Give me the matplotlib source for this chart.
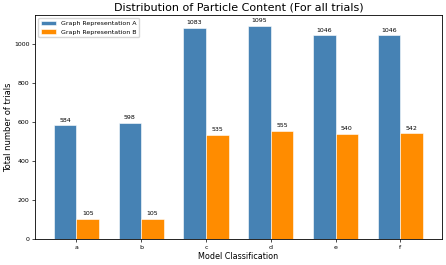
import matplotlib
matplotlib.use("Agg")
import matplotlib.pyplot as plt
import numpy as np

categories = ['a', 'b', 'c', 'd', 'e', 'f']
graph_a = [584, 598, 1083, 1095, 1046, 1046]
graph_b = [105, 105, 535, 555, 540, 542]

x = np.arange(len(categories))
width = 0.35

fig, ax = plt.subplots(figsize=(4.46, 2.65), dpi=100)
bars_a = ax.bar(x - width/2, graph_a, width, label='Graph Representation A',
                color='steelblue', edgecolor='white', linewidth=0.4)
bars_b = ax.bar(x + width/2, graph_b, width, label='Graph Representation B',
                color='darkorange', edgecolor='white', linewidth=0.4)

for bars in (bars_a, bars_b):
    for b in bars:
        h = b.get_height()
        ax.annotate(str(h), xy=(b.get_x() + b.get_width()/2, h),
                    xytext=(0, 2), textcoords='offset points',
                    ha='center', va='bottom', fontsize=4.5)

ax.set_title('Distribution of Particle Content (For all trials)', fontsize=8, pad=3)
ax.set_xlabel('Model Classification', fontsize=5.8, labelpad=2)
ax.set_ylabel('Total number of trials', fontsize=6, labelpad=0.5)
ax.set_xticks(x)
ax.set_xticklabels(categories)
ax.tick_params(labelsize=4.5, length=2, width=0.5, pad=2)
for s in ax.spines.values():
    s.set_linewidth(0.6)
ax.legend(loc='upper left', fontsize=4.5, handlelength=2.5)

plt.subplots_adjust(left=0.079, right=0.99, top=0.943, bottom=0.098)
plt.savefig('out.png', dpi=100)
